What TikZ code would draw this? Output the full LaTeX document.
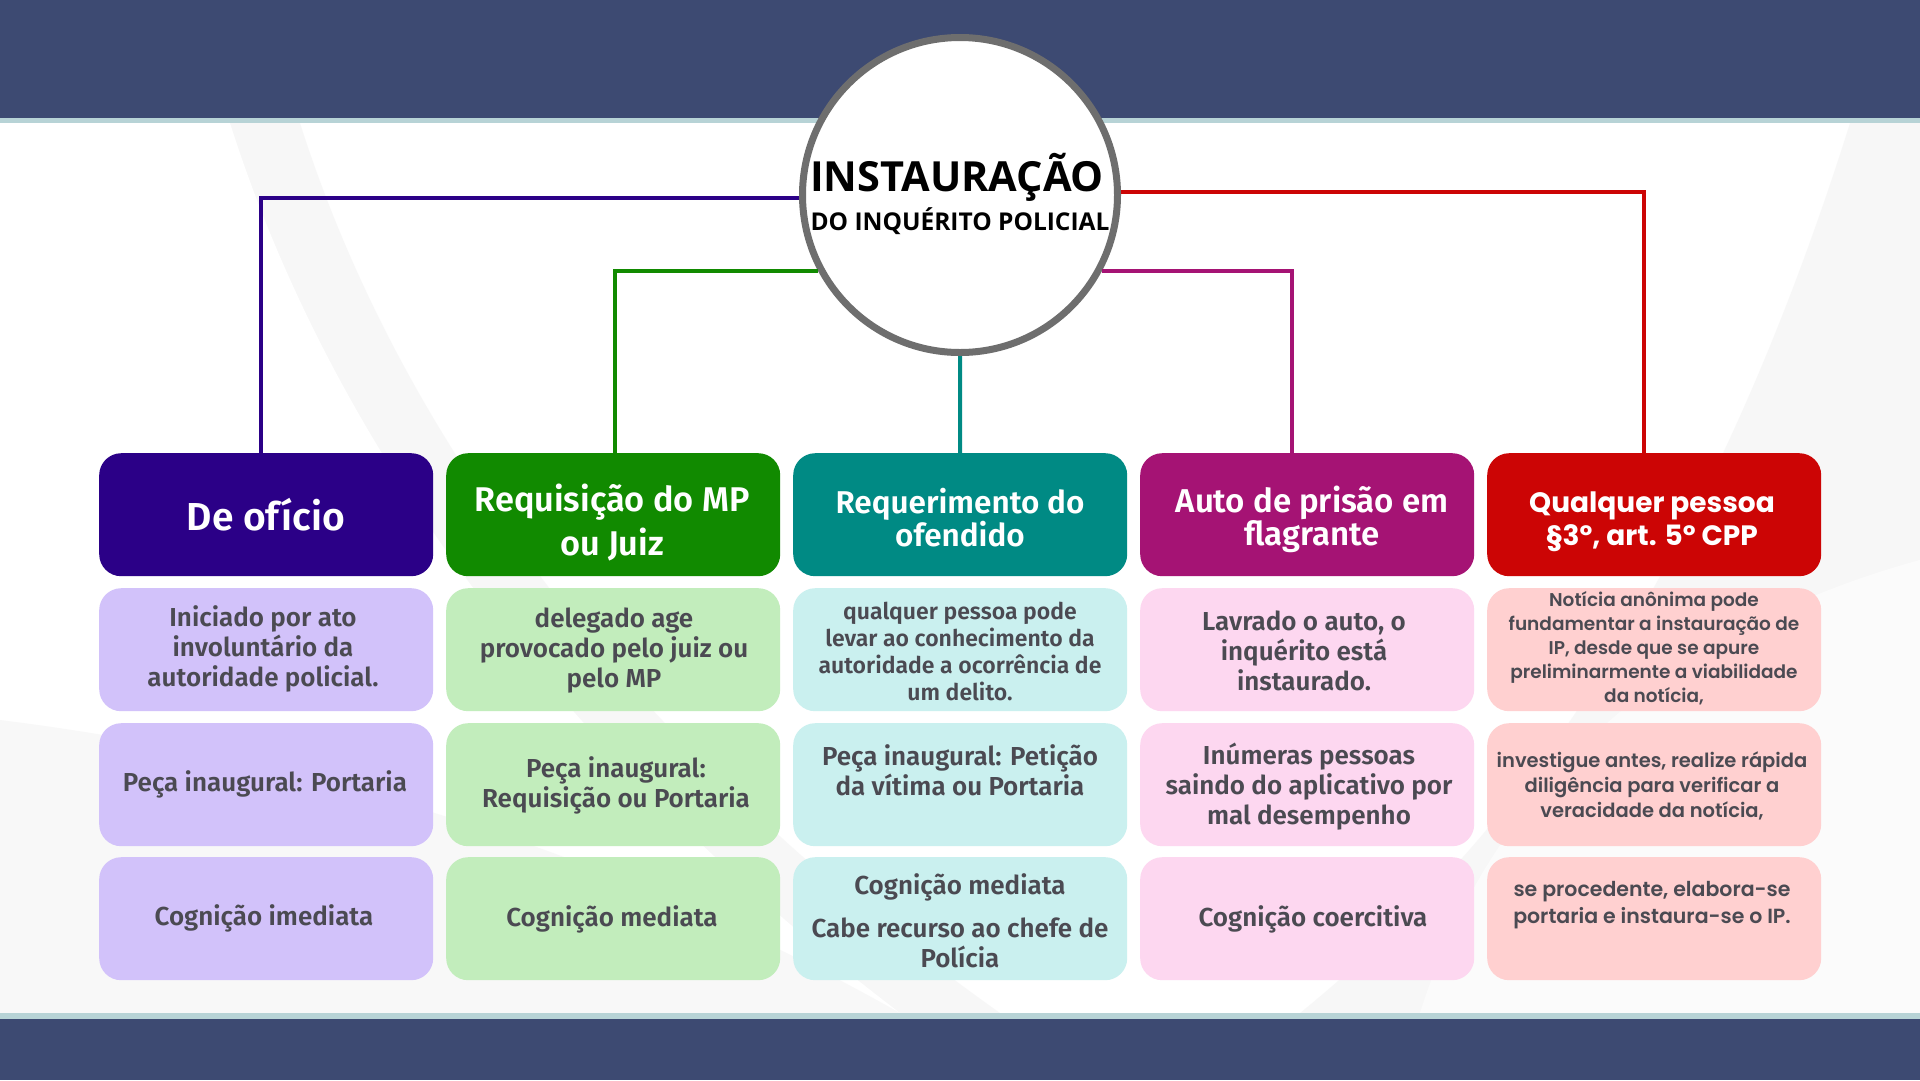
\documentclass[tikz,border=0pt]{standalone}
\usepackage{fontspec}
\setmainfont{Fira Sans}
\newfontfamily\cf{Fira Sans SemiBold}
\newfontfamily\tf{Open Sans}
\newfontfamily\pf{Poppins SemiBold}
\newfontfamily\pfb{Poppins Bold}
\definecolor{navy}{HTML}{3D4A72}
\definecolor{bandline}{HTML}{B7D3D6}
\definecolor{hA}{HTML}{2B0087}\definecolor{cA}{HTML}{D2C2FA}
\definecolor{hB}{HTML}{118A00}\definecolor{cB}{HTML}{C2EDBC}
\definecolor{hC}{HTML}{008A84}\definecolor{cC}{HTML}{CAF0EF}
\definecolor{hD}{HTML}{A51374}\definecolor{cD}{HTML}{FDD7F0}
\definecolor{hE}{HTML}{CC0505}\definecolor{cE}{HTML}{FFD0D0}
\definecolor{txt}{HTML}{4B4A52}
\definecolor{ringgray}{HTML}{6E6E6E}
\definecolor{swoosh}{HTML}{F6F6F6}
\tikzset{
  box/.style={rectangle, rounded corners=22pt, minimum width=334pt, minimum height=123pt, inner sep=0pt, anchor=north west, draw=none},
  htext/.style={text=white, align=center, inner sep=0pt},
  ctext/.style={text=txt, align=center, inner sep=0pt},
  conn/.style={line width=4pt}
}
\begin{document}
\begin{tikzpicture}[x=1pt,y=-1pt]
% background
\fill[white] (0,0) rectangle (1920,1080);
\fill[swoosh, opacity=0.8] (0,123) -- (300,123) .. controls (420,500) and (700,800) .. (1000,1013) -- (0,1013) -- cycle;
\fill[white] (0,123) -- (230,123) .. controls (350,500) and (620,800) .. (900,1013) -- (0,1013) -- cycle;
\fill[swoosh, opacity=0.7] (0,720) .. controls (400,770) and (700,900) .. (900,1013) -- (0,1013) -- cycle;
\fill[swoosh, opacity=0.8] (1920,123) -- (1850,123) .. controls (1700,600) and (1500,850) .. (1300,1013) -- (1920,1013) -- cycle;
\fill[white, opacity=0.6] (1920,560) .. controls (1700,620) and (1500,760) .. (1420,1013) -- (1920,1013) -- cycle;
\fill[navy] (0,0) rectangle (1920,118);
\fill[bandline] (0,118) rectangle (1920,123);
\fill[bandline] (0,1013) rectangle (1920,1019);
\fill[navy] (0,1019) rectangle (1920,1080);

% central circle
\node[circle, draw=ringgray, line width=7pt, fill=white, minimum size=315pt, inner sep=0pt] (c) at (960,195) {};
\node[font=\tf\bfseries\fontsize{41.5}{48}\selectfont, inner sep=0pt] (title) at (957,177) {INSTAURAÇÃO};
\node[font=\tf\bfseries\fontsize{24.5}{30}\selectfont, inner sep=0pt] (subtitle) at (960,221) {DO INQUÉRITO POLICIAL};

% header boxes
\node[box, fill=hA] (hA) at (99,453) {};
\node[box, fill=hB] (hB) at (446,453) {};
\node[box, fill=hC] (hC) at (793,453) {};
\node[box, fill=hD] (hD) at (1140,453) {};
\node[box, fill=hE] (hE) at (1487,453) {};

% content boxes
\foreach \col/\x in {A/99,B/446,C/793,D/1140,E/1487}{
  \node[box, fill=c\col] (\col1) at (\x,588) {};
  \node[box, fill=c\col] (\col2) at (\x,723) {};
  \node[box, fill=c\col] (\col3) at (\x,857) {};
}

% connectors
\draw[conn, hA] ([xshift=-5pt]hA.north) |- (c.181);
\draw[conn, hB] ([xshift=2pt]hB.north) |- (c.208);
\draw[conn, hC] (c.south) -- (hC.north);
\draw[conn, hD] ([xshift=-15pt]hD.north) |- (c.332);
\draw[conn, hE] ([xshift=-10pt]hE.north) |- (c.1);

% header texts
\node[htext, font=\cf\fontsize{39}{44}\selectfont] (thA) at (266,515) {De ofício};
\node[htext, font=\cf\fontsize{34.3}{44}\selectfont] (thB) at (612,522) {Requisição do MP\\ou Juiz};
\node[htext, font=\cf\fontsize{31.5}{33}\selectfont] (thC) at (960,518) {Requerimento do\\ofendido};
\node[htext, font=\cf\fontsize{33}{32}\selectfont] (thD) at (1312,519) {Auto de prisão em\\flagrante};
\node[htext, font=\pfb\fontsize{28}{32.5}\selectfont] (thE) at (1652,522) {Qualquer pessoa\\§3º, art. 5º CPP};

% row 1
\node[ctext, font=\cf\fontsize{26}{30}\selectfont] (tA1) at (263,649) {Iniciado por ato\\involuntário da\\autoridade policial.};
\node[ctext, font=\cf\fontsize{26}{30}\selectfont] (tB1) at (614,651) {delegado age\\provocado pelo juiz ou\\pelo MP};
\node[ctext, font=\cf\fontsize{23}{27}\selectfont] (tC1) at (960,651) {qualquer pessoa pode\\levar ao conhecimento da\\autoridade a ocorrência de\\um delito.};
\node[ctext, font=\cf\fontsize{26}{30}\selectfont] (tD1) at (1304,651) {Lavrado o auto, o\\inquérito está\\instaurado.};
\node[ctext, font=\pf\fontsize{18.5}{24}\selectfont] (tE1) at (1654,648) {Notícia anônima pode\\fundamentar a instauração de\\IP, desde que se apure\\preliminarmente a viabilidade\\da notícia,};

% row 2
\node[ctext, font=\cf\fontsize{26}{30}\selectfont] (tA2) at (265,784) {Peça inaugural: Portaria};
\node[ctext, font=\cf\fontsize{26}{30}\selectfont] (tB2) at (616,785) {Peça inaugural:\\Requisição ou Portaria};
\node[ctext, font=\cf\fontsize{26}{30}\selectfont] (tC2) at (960,770) {Peça inaugural: Petição\\da vítima ou Portaria};
\node[ctext, font=\cf\fontsize{26}{30}\selectfont] (tD2) at (1309,787) {Inúmeras pessoas\\saindo do aplicativo por\\mal desempenho};
\node[ctext, font=\pf\fontsize{19.5}{25}\selectfont] (tE2) at (1652,786) {investigue antes, realize rápida\\diligência para verificar a\\veracidade da notícia,};

% row 3
\node[ctext, font=\cf\fontsize{26}{30}\selectfont] (tA3) at (264,918) {Cognição imediata};
\node[ctext, font=\cf\fontsize{26}{30}\selectfont] (tB3) at (612,919) {Cognição mediata};
\node[ctext, font=\cf\fontsize{26}{30}\selectfont] (tC3a) at (960,887) {Cognição mediata};
\node[ctext, font=\cf\fontsize{26}{30}\selectfont] (tC3b) at (960,943) {Cabe recurso ao chefe de\\Polícia};
\node[ctext, font=\cf\fontsize{26}{30}\selectfont] (tD3) at (1313,919) {Cognição coercitiva};
\node[ctext, font=\pf\fontsize{20.5}{26.5}\selectfont] (tE3) at (1652,905) {se procedente, elabora-se\\portaria e instaura-se o IP.};
\end{tikzpicture}
\end{document}
